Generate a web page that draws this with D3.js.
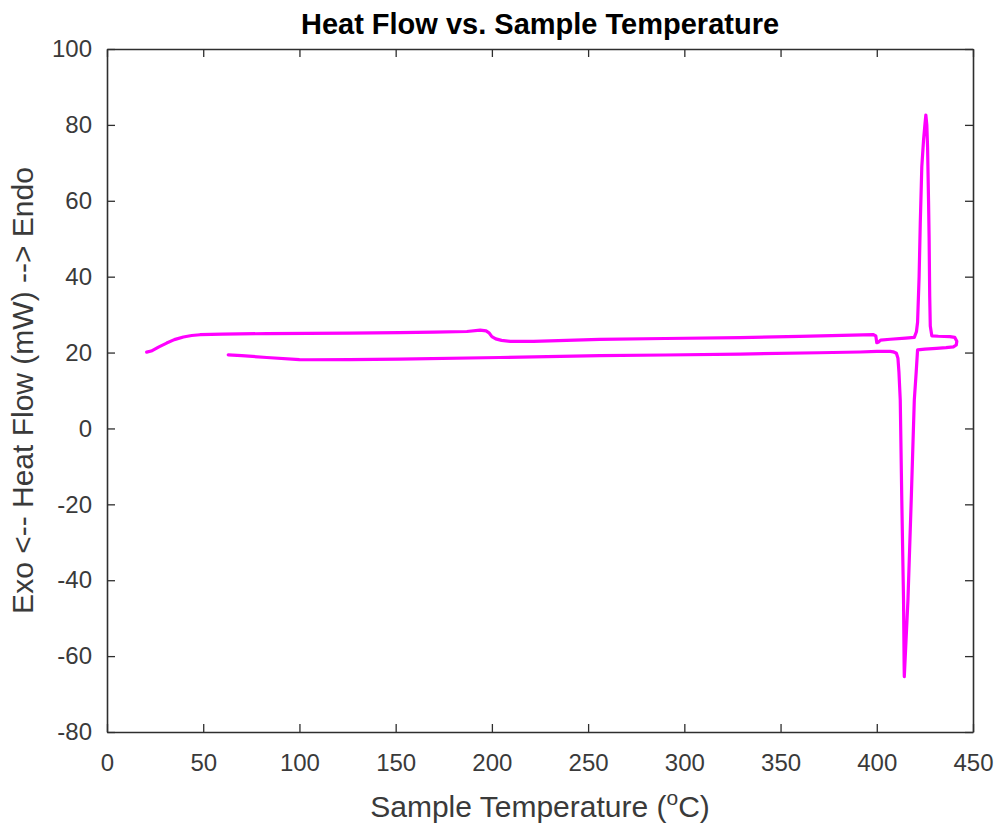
<!DOCTYPE html>
<html>
<head>
<meta charset="utf-8">
<script src="https://cdn.jsdelivr.net/npm/d3@7"></script>
<style>
  html, body { margin: 0; padding: 0; background: #fff; }
  svg { display: block; font-family: "Liberation Sans", Arial, Helvetica, sans-serif; }
</style>
</head>
<body>
<svg id="chart" width="997" height="824"></svg>
<script>
// ---- Data ----
const heatingTemp = [20.6, 23, 27, 31, 35, 39.7, 44, 48.3, 60, 83, 126, 152, 170, 187, 193.9, 197, 198.5, 200, 202, 205, 209.5, 221.6, 256, 290, 329, 360, 398.3, 399.5, 400, 401, 402, 407, 415, 419.5,
  420.6, 421.2, 422.0, 422.6, 423.4, 424.3, 425.0, 425.5, 426.0, 426.4, 426.9, 427.2, 427.5, 427.8, 428.6, 432, 438, 440.5, 441.6, 441.3, 439.8, 436, 431];
const heatingFlow = [20.1, 20.4, 21.5, 22.5, 23.4, 24.1, 24.5, 24.7, 24.85, 25.0, 25.1, 25.25, 25.4, 25.55, 25.9, 25.7, 25.2, 24.2, 23.6, 23.2, 22.95, 22.95, 23.45, 23.7, 23.95, 24.25, 24.7, 24.4, 22.6, 22.8, 23.3, 23.5, 23.8, 24.0,
  25.5, 28, 40, 54, 69, 76, 80, 82.6, 80, 74, 60, 50, 35, 27, 24.4, 24.3, 24.2, 24.0, 23.0, 22.0, 21.5, 21.3, 21.1];
const coolingTemp = [431, 425, 421.2, 420.5, 419.5, 417.9, 416.2, 415.0, 414.3, 414.2, 413.9, 413.0, 412.2, 411.5, 411.0, 410.2, 408.5, 407, 400, 391.4, 370, 329, 290, 256, 204, 152, 126, 105, 100, 83, 70, 63];
const coolingFlow = [21.1, 20.9, 20.7, 15, 7.5, -18.9, -45.2, -58, -65.4, -62, -45.2, -18.9, 7.5, 15, 18.5, 19.8, 20.2, 20.3, 20.3, 20.15, 19.95, 19.6, 19.35, 19.2, 18.7, 18.25, 18.15, 18.1, 18.15, 18.7, 19.2, 19.4];
const xTicks = [0, 50, 100, 150, 200, 250, 300, 350, 400, 450];
const yTicks = [-80, -60, -40, -20, 0, 20, 40, 60, 80, 100];
const titleText = "Heat Flow vs. Sample Temperature";
const yLabelText = "Exo <-- Heat Flow (mW) --> Endo";

// ---- Layout ----
const svg = d3.select("#chart");
const pLeft = 107, pRight = 973, pTop = 49, pBottom = 732;
const axisColor = "#2e2e2e";
const plainFmt = d => String(d);   // hyphen-minus as in the reference

const x = d3.scaleLinear().domain([0, 450]).range([pLeft, pRight]);
const y = d3.scaleLinear().domain([-80, 100]).range([pBottom, pTop]);

// Full loop: heating run followed by cooling run
const pts = heatingTemp.map((t, i) => [t, heatingFlow[i]])
  .concat(coolingTemp.map((t, i) => [t, coolingFlow[i]]));

const line = d3.line().x(d => x(d[0])).y(d => y(d[1])).curve(d3.curveLinear);

svg.append("path")
  .datum(pts)
  .attr("d", line)
  .attr("fill", "none")
  .attr("stroke", "#ff00ff")
  .attr("stroke-width", 3.2)
  .attr("stroke-linejoin", "round")
  .attr("stroke-linecap", "round");

// ---- Axes (box with inward ticks) ----
function styleAxis(g) {
  g.selectAll("path.domain").attr("stroke", axisColor).attr("stroke-width", 1.6);
  g.selectAll(".tick line").attr("stroke", axisColor).attr("stroke-width", 1.3);
  g.selectAll(".tick text").attr("fill", "#3a3a3a").attr("font-size", 24)
    .attr("font-family", "'Liberation Sans', Arial, Helvetica, sans-serif");
}

svg.append("g").attr("transform", `translate(0,${pBottom})`)
  .call(d3.axisBottom(x).tickValues(xTicks).tickFormat(plainFmt).tickSizeInner(-8).tickSizeOuter(0).tickPadding(22))
  .call(styleAxis);
svg.append("g").attr("transform", `translate(0,${pTop})`)
  .call(d3.axisTop(x).tickValues(xTicks).tickFormat("").tickSizeInner(-8).tickSizeOuter(0))
  .call(styleAxis);
svg.append("g").attr("transform", `translate(${pLeft},0)`)
  .call(d3.axisLeft(y).tickValues(yTicks).tickFormat(plainFmt).tickSizeInner(-8).tickSizeOuter(0).tickPadding(15))
  .call(styleAxis);
svg.append("g").attr("transform", `translate(${pRight},0)`)
  .call(d3.axisRight(y).tickValues(yTicks).tickFormat("").tickSizeInner(-8).tickSizeOuter(0))
  .call(styleAxis);

// ---- Titles ----
svg.append("text")
  .attr("x", 540).attr("y", 34)
  .attr("text-anchor", "middle")
  .attr("font-size", 29).attr("font-weight", "bold").attr("fill", "#000")
  .text(titleText);

const xl = svg.append("text")
  .attr("x", (pLeft + pRight) / 2).attr("y", 817)
  .attr("text-anchor", "middle")
  .attr("font-size", 30).attr("fill", "#3a3a3a");
xl.append("tspan").text("Sample Temperature (");
xl.append("tspan").attr("font-size", 21).attr("dy", -12).text("o");
xl.append("tspan").attr("dy", 12).text("C)");

svg.append("text")
  .attr("transform", `translate(33,${(pTop + pBottom) / 2}) rotate(-90)`)
  .attr("text-anchor", "middle")
  .attr("font-size", 30).attr("fill", "#3a3a3a")
  .text(yLabelText);
</script>
</body>
</html>
